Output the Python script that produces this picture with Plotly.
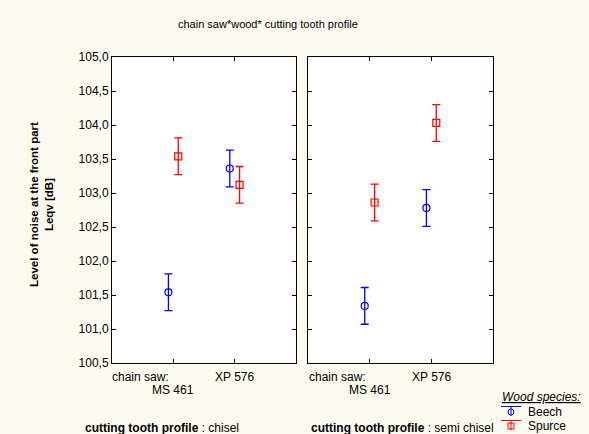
import plotly.graph_objects as go

# ---- data ----
saws = ["MS 461", "XP 576"]
saw_factor = "chain saw:"
profiles = ["chisel", "semi chisel"]
beech_chisel = [101.54, 103.36]
beech_semi = [101.34, 102.78]
spurce_chisel = [103.54, 103.12]
spurce_semi = [102.86, 104.03]
beech_err_chisel = [0.27, 0.27]
beech_err_semi = [0.27, 0.27]
spurce_err_chisel = [0.27, 0.27]
spurce_err_semi = [0.27, 0.27]
y_ticks = [100.5, 101.0, 101.5, 102.0, 102.5, 103.0, 103.5, 104.0, 104.5, 105.0]

W, H = 589, 434
BG = "#FDFAF0"
FONT = "Liberation Sans, Arial, sans-serif"
BLUE = "#0000FF"
RED = "#FF0000"

def px(x):
    return x / W

def py(y):
    return 1 - y / H

fig = go.Figure()

pos = [1, 2]
off = 0.08
series = [
    ("Beech", BLUE, "circle-open", [beech_chisel, beech_semi], [beech_err_chisel, beech_err_semi], -off),
    ("Spurce", RED, "square-open", [spurce_chisel, spurce_semi], [spurce_err_chisel, spurce_err_semi], off),
]
for name, col, sym, vals, errs, dx in series:
    for k in range(2):
        fig.add_trace(go.Scatter(
            x=[p + dx for p in pos], y=vals[k],
            xaxis="x" if k == 0 else "x2", yaxis="y" if k == 0 else "y2",
            mode="markers", showlegend=False, hoverinfo="skip",
            marker=dict(symbol=sym, size=7, color=col, line=dict(width=1.2, color=col)),
            error_y=dict(type="data", array=errs[k], color=col, thickness=1.3, width=4),
        ))

axis_common = dict(showline=True, linecolor="black", linewidth=1, mirror="ticks", automargin=False,
                   ticks="inside", ticklen=4, tickcolor="black", showgrid=False, zeroline=False)
ydom = [py(363), py(57)]
fig.update_layout(
    width=W, height=H, margin=dict(l=0, r=0, t=0, b=0, pad=0),
    paper_bgcolor=BG, plot_bgcolor="white",
    font=dict(family=FONT, size=12, color="black"),
    separators=", ",
    xaxis=dict(domain=[px(112), px(296)], range=[0, 3], tickvals=pos, showticklabels=False, **axis_common),
    xaxis2=dict(domain=[px(308), px(493)], range=[0, 3], tickvals=pos, showticklabels=False, anchor="y2", **axis_common),
    yaxis=dict(domain=ydom, range=[100.5, 105.0], tickvals=y_ticks, tickformat=".1f", **axis_common),
    yaxis2=dict(domain=ydom, range=[100.5, 105.0], tickvals=y_ticks, showticklabels=False, anchor="x2", **axis_common),
)

ann = []
def A(text, x, y, xref="paper", xanchor="center", size=12, **kw):
    d = dict(text=text, x=x if xref != "paper" else px(x), xref=xref, xanchor=xanchor,
             y=py(y), yref="paper", yanchor="middle", showarrow=False, font=dict(size=size))
    d.update(kw)
    ann.append(d)

A("chain saw*wood* cutting tooth profile", 268, 24, size=11)
A("<b>Level of noise at the front part<br>Leqv [dB]</b>", 41, 205, textangle=-90, size=11.5)
for k, xa in enumerate(["x", "x2"]):
    A(saw_factor, pos[0], 377, xref=xa, xanchor="right", xshift=-2)
    A(saws[0], pos[0], 390, xref=xa)
    A(saws[1], pos[1], 377, xref=xa)
A("<b>cutting tooth profile</b> : " + profiles[0], 83, 428, xanchor="left")
A("<b>cutting tooth profile</b> : " + profiles[1], 309, 428, xanchor="left")
# legend
A("<i><u>Wood species:</u></i>", 500, 397, xanchor="left")
shapes = []
for i, (name, col, sym, _, _, _) in enumerate(series):
    yc = 412 + 14 * i
    A(name, 526, yc, xanchor="left")
    shapes.append(dict(type="line", xref="paper", yref="paper", x0=px(501), x1=px(521),
                       y0=py(yc - 5.5), y1=py(yc - 5.5), line=dict(color=col, width=1)))
    shapes.append(dict(type="line", xref="paper", yref="paper", x0=px(511), x1=px(511),
                       y0=py(yc - 5.5), y1=py(yc + 4), line=dict(color=col, width=1)))
    shapes.append(dict(type="circle" if i == 0 else "rect", xref="paper", yref="paper",
                       xsizemode="pixel", ysizemode="pixel", xanchor=px(511), yanchor=py(yc),
                       x0=-3, x1=3, y0=-3, y1=3, line=dict(color=col, width=1), fillcolor="rgba(0,0,0,0)"))
fig.update_layout(annotations=ann, shapes=shapes, hovermode=False)

fig.write_html("out.html", config={"displayModeBar": False, "staticPlot": True},
               post_script="document.body.style.margin='0';document.body.style.overflow='hidden';"
                           "document.body.style.background='" + BG + "';")
